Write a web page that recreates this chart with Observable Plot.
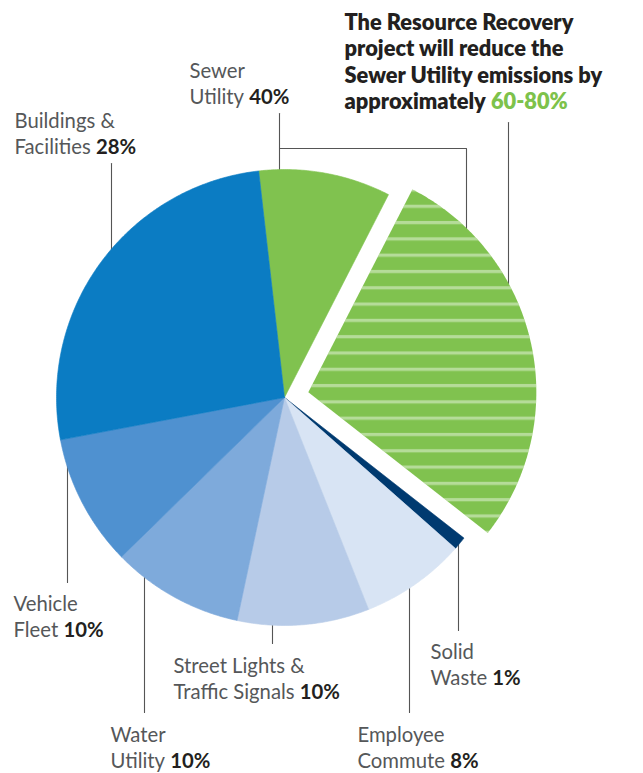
<!DOCTYPE html>
<html><head><meta charset="utf-8">
<script src="https://cdn.jsdelivr.net/npm/d3@7"></script>
<script src="https://cdn.jsdelivr.net/npm/@observablehq/plot@0.6"></script>
<style>html,body{margin:0;padding:0;background:#fff}svg{display:block}</style>
</head><body><div id="chart"></div>
<script>
// ---------- data ----------
const categories = ["Sewer Utility", "Sewer Utility (reduction)", "Solid Waste", "Employee Commute",
  "Street Lights & Traffic Signals", "Water Utility", "Vehicle Fleet", "Buildings & Facilities"];
const shares = [10, 30, 1, 8, 10, 10, 10, 28];
const sliceColors = ["#80c24f", "#80c24f", "#003a70", "#d8e4f4", "#b7cbe8", "#7eaadb", "#4f91d0", "#0b7cc3"];
const explodedSlice = [false, true, false, false, false, false, false, false];

const labelLine1 = ["Sewer", "Buildings &", "Vehicle", "Street Lights &", "Water", "Solid", "Employee"];
const labelLine2 = ["Utility", "Facilities", "Fleet", "Traffic Signals", "Utility", "Waste", "Commute"];
const labelPct = ["40%", "28%", "10%", "10%", "10%", "1%", "8%"];

const titleLines = ["The Resource Recovery", "project will reduce the", "Sewer Utility emissions by", "approximately"];
const titleHighlight = "60-80%";

// ---------- layout (pixels) ----------
const W = 643, H = 773, CX = 284, CY = 397, R = 228;
const START = -6.5 * Math.PI / 180;
const EXPLODE = 0.107;
const labelPos = [[189, 77], [14, 127], [13, 610], [173, 672], [110, 741], [430, 658], [357, 741]];
const lineStep = 26.3;
const titlePos = [344, 29], titleStep = 26.5;
const leaders = [
  [[279, 113], [279, 185]],
  [[279, 148], [466, 148], [466, 245]],
  [[111, 163], [111, 260]],
  [[67, 582], [67, 455]],
  [[272, 643], [272, 610]],
  [[144, 712], [144, 565]],
  [[458, 630], [458, 540]],
  [[409, 712], [409, 575]],
  [[508, 122], [508, 295]]
];
const FONT = "Lato, 'Open Sans', sans-serif";
const labelSize = 20.3, titleSize = 21.8;

const ux = px => (px - CX) / R, uy = py => (CY - py) / R;

// measurement
const ctx = document.createElement("canvas").getContext("2d");
function measure(t, weight, size) { ctx.font = `${weight} ${size}px Lato`; return ctx.measureText(t).width; }

// ---------- pie geometry ----------
const arcs = d3.pie().sort(null).startAngle(START).endAngle(START + 2 * Math.PI)(shares);
const slices = arcs.map((a, i) => {
  const mid = (a.startAngle + a.endAngle) / 2;
  const off = explodedSlice[i] ? EXPLODE : 0;
  const ox = off * Math.sin(mid), oy = off * Math.cos(mid);
  const pts = [{x: ox, y: oy}];
  const n = Math.max(2, Math.ceil((a.endAngle - a.startAngle) / (Math.PI / 360)));
  for (let j = 0; j <= n; j++) {
    const t = a.startAngle + (a.endAngle - a.startAngle) * j / n;
    pts.push({x: ox + Math.sin(t), y: oy + Math.cos(t)});
  }
  pts.push({x: ox, y: oy});
  return {i, pts};
});

// ---------- texts ----------
const regTexts = [], boldTexts = [];
labelLine1.forEach((l1, i) => {
  const [lx, ly] = labelPos[i];
  regTexts.push({x: ux(lx), y: uy(ly), t: l1});
  regTexts.push({x: ux(lx), y: uy(ly + lineStep), t: labelLine2[i]});
  const dx = measure(labelLine2[i] + " ", 400, labelSize);
  boldTexts.push({x: ux(lx + dx), y: uy(ly + lineStep), t: labelPct[i]});
});
const titleTexts = titleLines.map((t, k) => ({x: ux(titlePos[0]), y: uy(titlePos[1] + k * titleStep), t}));
const hlDx = measure(titleLines[titleLines.length - 1] + " ", 800, titleSize);
const hlText = [{x: ux(titlePos[0] + hlDx), y: uy(titlePos[1] + (titleLines.length - 1) * titleStep), t: titleHighlight}];

const leaderPts = leaders.flatMap((pl, k) => pl.map(([px, py]) => ({k, x: ux(px), y: uy(py)})));

const marks = [
  Plot.line(leaderPts, {x: "x", y: "y", z: "k", stroke: "#555", strokeWidth: 1.1}),
  ...slices.flatMap(s => {
    const c = sliceColors[s.i];
    const m = [Plot.line(s.pts, {x: "x", y: "y", fill: c, stroke: explodedSlice[s.i] ? "none" : c, strokeWidth: 0.6})];
    if (explodedSlice[s.i]) m.push(Plot.line(s.pts, {x: "x", y: "y", fill: "url(#stripes)", stroke: "none"}));
    return m;
  }),
  Plot.text(regTexts, {x: "x", y: "y", text: "t", textAnchor: "start", lineAnchor: "bottom", fill: "#555759", fontSize: labelSize, fontWeight: 400}),
  Plot.text(boldTexts, {x: "x", y: "y", text: "t", textAnchor: "start", lineAnchor: "bottom", fill: "#231f20", fontSize: labelSize, fontWeight: 700}),
  Plot.text(titleTexts, {x: "x", y: "y", text: "t", textAnchor: "start", lineAnchor: "bottom", fill: "#231f20", fontSize: titleSize, fontWeight: 800}),
  Plot.text(hlText, {x: "x", y: "y", text: "t", textAnchor: "start", lineAnchor: "bottom", fill: "#7dc24b", fontSize: titleSize, fontWeight: 800})
];

const chart = Plot.plot({
  width: W, height: H, margin: 0,
  style: {fontFamily: FONT, background: "#fff"},
  x: {domain: [ux(0), ux(W)], axis: null},
  y: {domain: [uy(H), uy(0)], axis: null},
  marks
});

// stripe pattern for the reduction portion
const svg = d3.select(chart);
const defs = svg.insert("defs", ":first-child");
const pat = defs.append("pattern").attr("id", "stripes").attr("patternUnits", "userSpaceOnUse")
  .attr("x", 0).attr("y", 0).attr("width", 20).attr("height", 16.3);
pat.append("rect").attr("x", 0).attr("y", 8.6).attr("width", 20).attr("height", 3.2).attr("fill", "rgba(255,255,255,0.42)");

document.getElementById("chart").appendChild(chart);
</script>
</body></html>
